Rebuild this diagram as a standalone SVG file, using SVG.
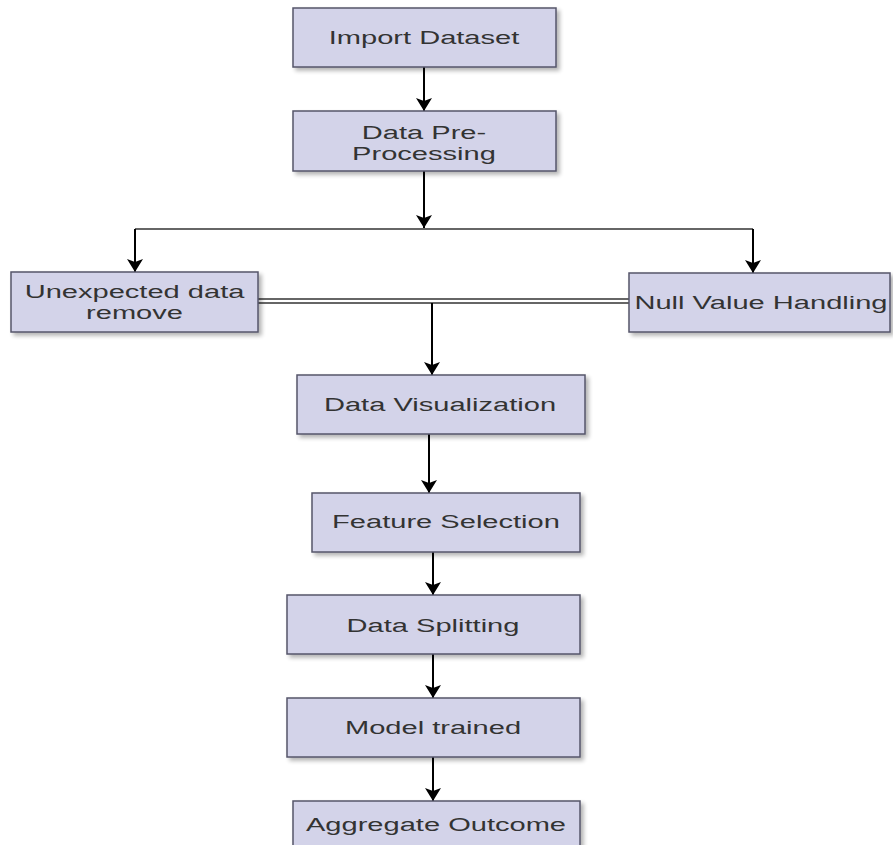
<svg xmlns="http://www.w3.org/2000/svg" width="893" height="845" viewBox="0 0 893 845">
  <defs>
    <filter id="sh" x="-10%" y="-10%" width="130%" height="140%">
      <feGaussianBlur in="SourceAlpha" stdDeviation="2"/>
      <feOffset dx="3" dy="3"/>
      <feComponentTransfer><feFuncA type="linear" slope="0.3"/></feComponentTransfer>
      <feMerge><feMergeNode/><feMergeNode in="SourceGraphic"/></feMerge>
    </filter>
    <marker id="arr" markerUnits="userSpaceOnUse" markerWidth="13" markerHeight="16" refX="13" refY="8" orient="auto">
      <path d="M0,0 L13,8 L0,16 L3,8 Z" fill="#000"/>
    </marker>
  </defs>
  <style>
    .box { fill: #d3d3e9; stroke: #55556a; stroke-width: 1.5; filter: url(#sh); }
    .lbl { font-family: "Liberation Sans", Arial, sans-serif; font-size: 19px; fill: #333; text-anchor: middle; }
    .con { stroke: #000; stroke-width: 2; fill: none; }
    .con2 { stroke: #333; stroke-width: 1.3; fill: none; }
  </style>
  <rect width="893" height="845" fill="#fff"/>
  <g id="connectors">
    <path class="con" d="M424,67 L424,111" marker-end="url(#arr)"/>
    <path class="con" d="M424,171 L424,228" marker-end="url(#arr)"/>
    <path class="con2" d="M135,229 L753,229"/>
    <path class="con" d="M135,229 L135,272" marker-end="url(#arr)"/>
    <path class="con" d="M753,229 L753,273" marker-end="url(#arr)"/>
    <path class="con2" d="M258,299 L629,299"/>
    <path class="con2" d="M258,303 L629,303"/>
    <path class="con" d="M432,303 L432,375" marker-end="url(#arr)"/>
    <path class="con" d="M429,434 L429,493" marker-end="url(#arr)"/>
    <path class="con" d="M433,552 L433,595" marker-end="url(#arr)"/>
    <path class="con" d="M433,654 L433,698" marker-end="url(#arr)"/>
    <path class="con" d="M433,757 L433,801" marker-end="url(#arr)"/>
  </g>
  <g id="import">
    <rect class="box" x="293" y="8" width="263" height="59"/>
    <text class="lbl" transform="translate(424,44) scale(1.53,1)">Import Dataset</text>
  </g>
  <g id="preprocessing">
    <rect class="box" x="293" y="111" width="263" height="60"/>
    <text class="lbl" transform="translate(424,139) scale(1.53,1)">Data Pre-</text>
    <text class="lbl" transform="translate(424,160) scale(1.53,1)">Processing</text>
  </g>
  <g id="unexpected">
    <rect class="box" x="11" y="272" width="247" height="60"/>
    <text class="lbl" transform="translate(134.5,298) scale(1.53,1)">Unexpected data</text>
    <text class="lbl" transform="translate(134.5,319) scale(1.53,1)">remove</text>
  </g>
  <g id="nullvalue">
    <rect class="box" x="629" y="273" width="261" height="59"/>
    <text class="lbl" transform="translate(761,309) scale(1.53,1)">Null Value Handling</text>
  </g>
  <g id="visualization">
    <rect class="box" x="297" y="375" width="288" height="59"/>
    <text class="lbl" transform="translate(440,411) scale(1.53,1)">Data Visualization</text>
  </g>
  <g id="feature">
    <rect class="box" x="312" y="493" width="268" height="59"/>
    <text class="lbl" transform="translate(446,528) scale(1.53,1)">Feature Selection</text>
  </g>
  <g id="splitting">
    <rect class="box" x="287" y="595" width="293" height="59"/>
    <text class="lbl" transform="translate(433,632) scale(1.53,1)">Data Splitting</text>
  </g>
  <g id="model">
    <rect class="box" x="287" y="698" width="293" height="59"/>
    <text class="lbl" transform="translate(433,734) scale(1.53,1)">Model trained</text>
  </g>
  <g id="aggregate">
    <rect class="box" x="293" y="801" width="287" height="55"/>
    <text class="lbl" transform="translate(436,831) scale(1.53,1)">Aggregate Outcome</text>
  </g>
</svg>
